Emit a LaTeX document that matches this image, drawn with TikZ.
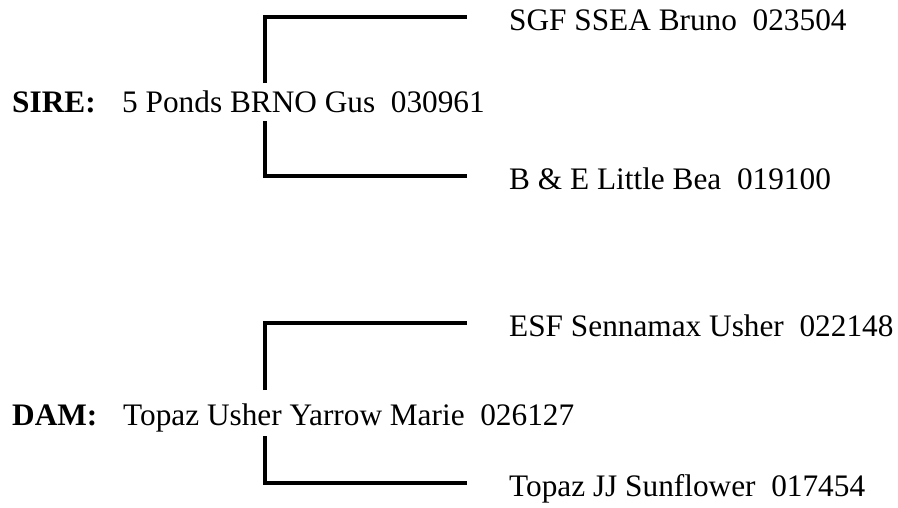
\documentclass[tikz,border=0pt]{standalone}
\usepackage{fontspec}
\setmainfont{Liberation Serif}
\begin{document}
\begin{tikzpicture}[x=1pt,y=-1pt]
\tikzset{
  lbl/.style={anchor=base west, inner sep=0pt, font=\fontsize{31.3}{36}\selectfont\bfseries},
  nm/.style={anchor=base west, inner sep=0pt, font=\fontsize{31.3}{36}\selectfont},
  br/.style={line width=4pt, line cap=butt, line join=miter}
}
\useasboundingbox (0,0) rectangle (898,507);
% SIRE
\node[lbl] (sirel) at (12,112) {SIRE:};
\node[nm] (sire) at (122,112) {5 Ponds BRNO Gus\ \ 030961};
\node[nm] (s1) at (509,30) {SGF SSEA Bruno\ \ 023504};
\node[nm] (s2) at (509,189) {B \& E Little Bea\ \ 019100};
\coordinate (sa) at (265,83);
\coordinate (sb) at (265,121);
\coordinate (s1e) at (467,17);
\coordinate (s2e) at (467,176);
\draw[br] (sa) |- (s1e);
\draw[br] (sb) |- (s2e);
% DAM
\node[lbl] (daml) at (12,425) {DAM:};
\node[nm] (dam) at (123,425) {Topaz Usher Yarrow Marie\ \ 026127};
\node[nm] (d1) at (509,336) {ESF Sennamax Usher\ \ 022148};
\node[nm] (d2) at (509,496) {Topaz JJ Sunflower\ \ 017454};
\coordinate (da) at (265,390);
\coordinate (db) at (265,436);
\coordinate (d1e) at (467,323);
\coordinate (d2e) at (467,483);
\draw[br] (da) |- (d1e);
\draw[br] (db) |- (d2e);
\end{tikzpicture}
\end{document}
